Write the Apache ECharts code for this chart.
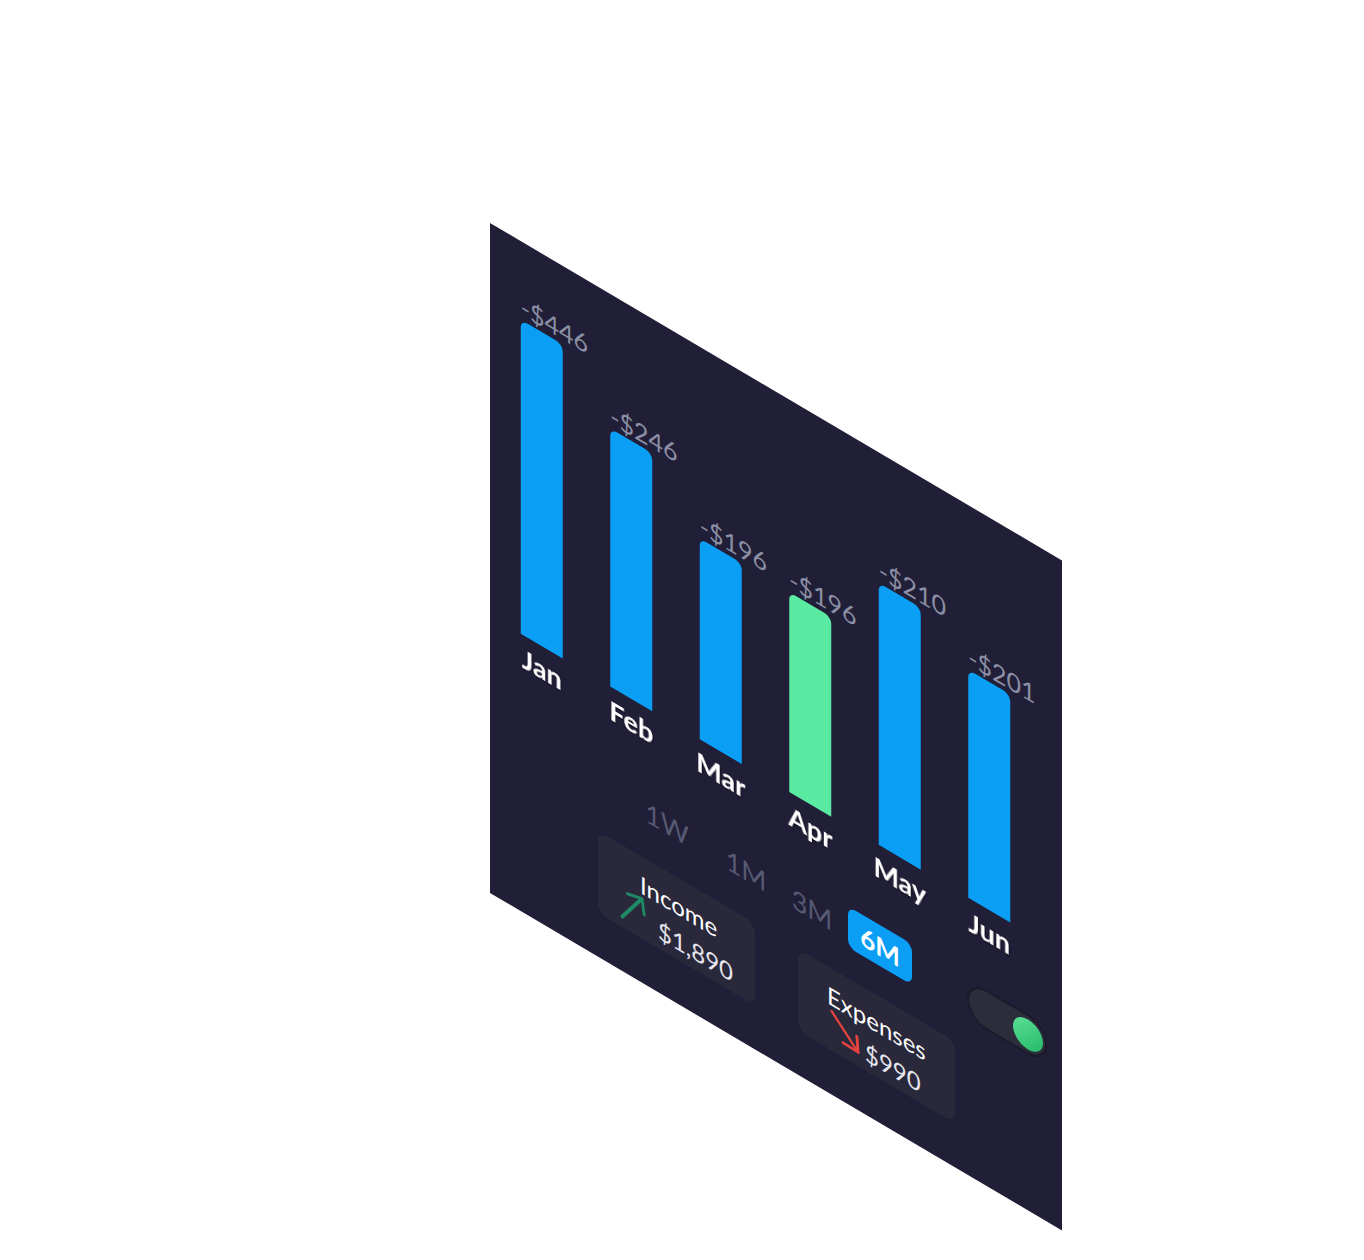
<!DOCTYPE html>
<html>
<head>
<meta charset="utf-8">
<script src="https://cdn.jsdelivr.net/npm/echarts@6/dist/echarts.min.js"></script>
<style>
  html, body { margin: 0; padding: 0; background: #ffffff; }
  body { width: 1364px; height: 1260px; position: relative; overflow: hidden; }
  #panel {
    position: absolute; left: 490px; top: 223px;
    width: 572px; height: 670px;
    background: #201f37;
    transform-origin: 0 0;
    transform: matrix(1, 0.59, 0, 1, 0, 0);
  }
</style>
</head>
<body>
<div id="panel"></div>
<script>
// ---- data ----
const categories = ['Jan', 'Feb', 'Mar', 'Apr', 'May', 'Jun'];
const barLevels = [314, 258, 201, 200, 262, 228];
const amounts = [446, 246, 196, 196, 210, 201];
const highlightMonth = 'Apr';
const ranges = ['1W', '1M', '3M', '6M'];
const activeRange = '6M';
const summaryLabels = ['Income', 'Expenses'];
const summaryValues = ['$1,890', '$990'];

// ---- styles ----
const BLUE = '#0b9ef5';
const GREEN = '#5aeaa2';
const FONT = 'Lato, "Open Sans", sans-serif';

const chart = echarts.init(document.getElementById('panel'), null, { renderer: 'svg' });

function arrow(tail, head, color) {
  const dx = head[0] - tail[0], dy = head[1] - tail[1];
  const len = Math.hypot(dx, dy);
  const ux = dx / len, uy = dy / len;
  const L = 15, a = 42 * Math.PI / 180;
  const w1 = [head[0] - L * (ux * Math.cos(a) - uy * Math.sin(a)), head[1] - L * (ux * Math.sin(a) + uy * Math.cos(a))];
  const w2 = [head[0] - L * (ux * Math.cos(-a) - uy * Math.sin(-a)), head[1] - L * (ux * Math.sin(-a) + uy * Math.cos(-a))];
  return [
    { type: 'polyline', shape: { points: [tail, head] }, style: { stroke: color, lineWidth: 3, lineCap: 'round' } },
    { type: 'polyline', shape: { points: [w1, head, w2] }, style: { stroke: color, lineWidth: 3, lineCap: 'round', lineJoin: 'round', fill: null } }
  ];
}

const rangeX = [177, 256, 322, 390];
const graphics = [];
ranges.forEach((r, i) => {
  if (r === activeRange) {
    graphics.push({ type: 'rect', shape: { x: rangeX[i] - 32, y: 472, width: 64, height: 41, r: 8 }, style: { fill: BLUE } });
    graphics.push({ type: 'text', style: { text: r, x: rangeX[i], y: 493, align: 'center', verticalAlign: 'middle', fill: '#ffffff', fontSize: 26, fontWeight: 'bold', fontFamily: FONT } });
  } else {
    graphics.push({ type: 'text', style: { text: r, x: rangeX[i], y: 496, align: 'center', verticalAlign: 'middle', fill: '#575972', fontSize: 27, fontFamily: FONT } });
  }
});

// summary cards
const cardX = [108, 308];
const titleX = [150, 337];
const valueX = [168, 375];
summaryLabels.forEach((lab, i) => {
  graphics.push({ type: 'rect', shape: { x: cardX[i], y: 544, width: 157, height: 82, r: 10 }, style: { fill: '#2a293c' } });
  graphics.push({ type: 'text', style: { text: lab, x: titleX[i], y: 572, align: 'left', verticalAlign: 'middle', fill: '#ffffff', fontSize: 24, fontFamily: FONT } });
  graphics.push({ type: 'text', style: { text: summaryValues[i], x: valueX[i], y: 607, align: 'left', verticalAlign: 'middle', fill: '#e6e6ee', fontSize: 24, fontFamily: FONT } });
});
graphics.push(...arrow([132, 616], [152, 586], '#1f8a66'));
graphics.push(...arrow([342, 587], [368, 612], '#e8433f'));

// toggle
graphics.push({ type: 'rect', shape: { x: 478, y: 475, width: 78, height: 38, r: 19 }, style: { fill: '#2c2d3b', stroke: '#1a1a2b', lineWidth: 2 } });
graphics.push({
  type: 'circle', shape: { cx: 538, cy: 494, r: 15 },
  style: {
    fill: new echarts.graphic.LinearGradient(0, 0, 1, 1, [
      { offset: 0, color: '#5fe39a' }, { offset: 1, color: '#22b566' }
    ])
  }
});

chart.setOption({
  animation: false,
  grid: { left: 7, width: 537, top: 42.5, height: 350 },
  xAxis: {
    type: 'category',
    data: categories,
    axisLine: { show: false },
    axisTick: { show: false },
    axisLabel: {
      color: '#ffffff', fontSize: 27, fontWeight: 'bold', fontFamily: FONT, margin: 9,
      textShadowColor: 'rgba(0,0,0,0.45)', textShadowBlur: 2, textShadowOffsetX: 1, textShadowOffsetY: 1
    }
  },
  yAxis: { type: 'value', min: 0, max: 350, show: false, splitLine: { show: false } },
  series: [{
    type: 'bar',
    barWidth: 42,
    data: barLevels.map((v, i) => ({
      value: v,
      itemStyle: { color: categories[i] === highlightMonth ? GREEN : BLUE }
    })),
    itemStyle: { borderRadius: [7, 7, 0, 0] },
    label: {
      show: true,
      position: [0, -2],
      align: 'left',
      verticalAlign: 'bottom',
      color: '#8c8fa4',
      fontSize: 25,
      fontFamily: FONT,
      formatter: p => '-$' + amounts[p.dataIndex]
    }
  }],
  graphic: graphics
});
</script>
</body>
</html>
